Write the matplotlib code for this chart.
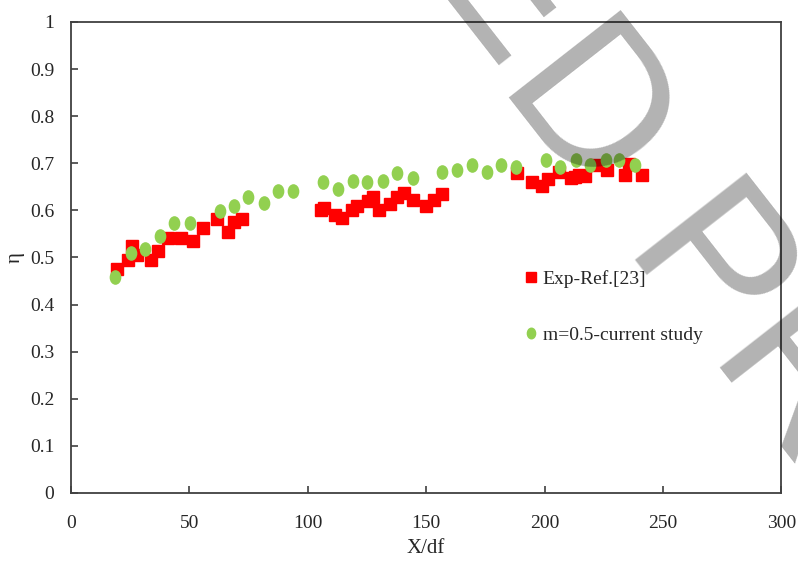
import matplotlib
matplotlib.use('Agg')
import matplotlib.pyplot as plt
from matplotlib.path import Path
from matplotlib.transforms import Affine2D

# experimental data, Ref. [23]
exp_x = [19.3, 24.2, 25.6, 28.0, 33.8, 36.6, 40.9, 46.3, 51.4, 55.9, 61.8, 66.2, 69.0, 72.1,
         105.5, 106.9, 111.3, 114.4, 118.6, 121.0, 125.6, 127.7, 130.1, 134.8, 137.9, 140.7,
         144.4, 150.0, 153.5, 156.6, 188.2, 194.7, 199.0, 201.6, 206.1, 211.3, 213.0, 214.7,
         217.2, 221.6, 226.3, 234.1, 235.5, 241.1]
exp_y = [0.475, 0.495, 0.524, 0.505, 0.495, 0.514, 0.541, 0.541, 0.534, 0.562, 0.581, 0.555,
         0.575, 0.581, 0.601, 0.606, 0.591, 0.584, 0.600, 0.610, 0.620, 0.629, 0.601, 0.614,
         0.629, 0.636, 0.622, 0.609, 0.622, 0.634, 0.679, 0.661, 0.652, 0.666, 0.682, 0.668,
         0.670, 0.675, 0.672, 0.697, 0.686, 0.675, 0.698, 0.675]

# current study, m = 0.5
cur_x = [18.6, 25.2, 31.3, 37.6, 43.7, 50.3, 62.9, 68.9, 74.9, 81.5, 87.6, 93.9, 106.6, 112.7,
         119.2, 125.2, 131.7, 137.6, 144.4, 156.9, 162.9, 169.3, 175.6, 181.7, 188.0, 200.6,
         206.6, 213.2, 219.3, 225.9, 231.6, 238.3]
cur_y = [0.458, 0.509, 0.517, 0.546, 0.574, 0.574, 0.599, 0.610, 0.628, 0.616, 0.642, 0.642,
         0.660, 0.645, 0.662, 0.660, 0.663, 0.679, 0.668, 0.681, 0.686, 0.696, 0.681, 0.696,
         0.693, 0.707, 0.693, 0.707, 0.696, 0.707, 0.707, 0.696]

x_ticks = [0, 50, 100, 150, 200, 250, 300]
y_ticks = [0, 0.1, 0.2, 0.3, 0.4, 0.5, 0.6, 0.7, 0.8, 0.9, 1]
y_labels = ['0', '0.1', '0.2', '0.3', '0.4', '0.5', '0.6', '0.7', '0.8', '0.9', '1']

plt.rcParams['font.family'] = ['Liberation Serif', 'DejaVu Serif']

# slightly tall ellipse, like the stretched excel markers
oval = Path.unit_circle().transformed(Affine2D().scale(0.78, 1.0))

fig = plt.figure(figsize=(7.98, 5.64), dpi=100)
ax = fig.add_axes([0.089, 0.126, 0.89, 0.835])

ax.plot(exp_x, exp_y, ls='none', marker='s', ms=9, color='#ff0000', mec='#ff0000',
        label='Exp-Ref.[23]')
ax.plot(cur_x, cur_y, ls='none', marker=oval, ms=9.5, color='#92d050', mec='#92d050',
        label='m=0.5-current study')

ax.set_xlim(0, 300)
ax.set_ylim(0, 1)
ax.set_xticks(x_ticks)
ax.set_yticks(y_ticks)
ax.set_yticklabels(y_labels)
ax.tick_params(direction='in', length=5, width=1.2, colors='#404040', labelsize=14,
               labelcolor='#262626')
ax.tick_params(axis='x', pad=16)
ax.tick_params(axis='y', pad=12)
for s in ax.spines.values():
    s.set_color('#404040')
    s.set_linewidth(1.3)

ax.set_xlabel('X/df', fontsize=15, color='#262626', labelpad=5)
ax.set_ylabel('η', fontsize=15, color='#262626', labelpad=4)

leg = ax.legend(loc='upper left', bbox_to_anchor=(0.615, 0.51), frameon=False, fontsize=14,
                handlelength=0.6, handletextpad=0.3, labelspacing=1.95, markerscale=0.8)
for t in leg.get_texts():
    t.set_color('#262626')

# watermark
wm = dict(fontsize=148, color='black', alpha=0.3, rotation=-52, rotation_mode='anchor',
          va='baseline', family=['Liberation Sans', 'DejaVu Sans'], zorder=10)
fig.text(0.624, 0.851, 'UNCORRECTE', ha='right', **wm)
fig.text(0.624, 0.851, 'D PROOF', ha='left', **wm)

plt.savefig('out.png', dpi=100)
plt.close()
